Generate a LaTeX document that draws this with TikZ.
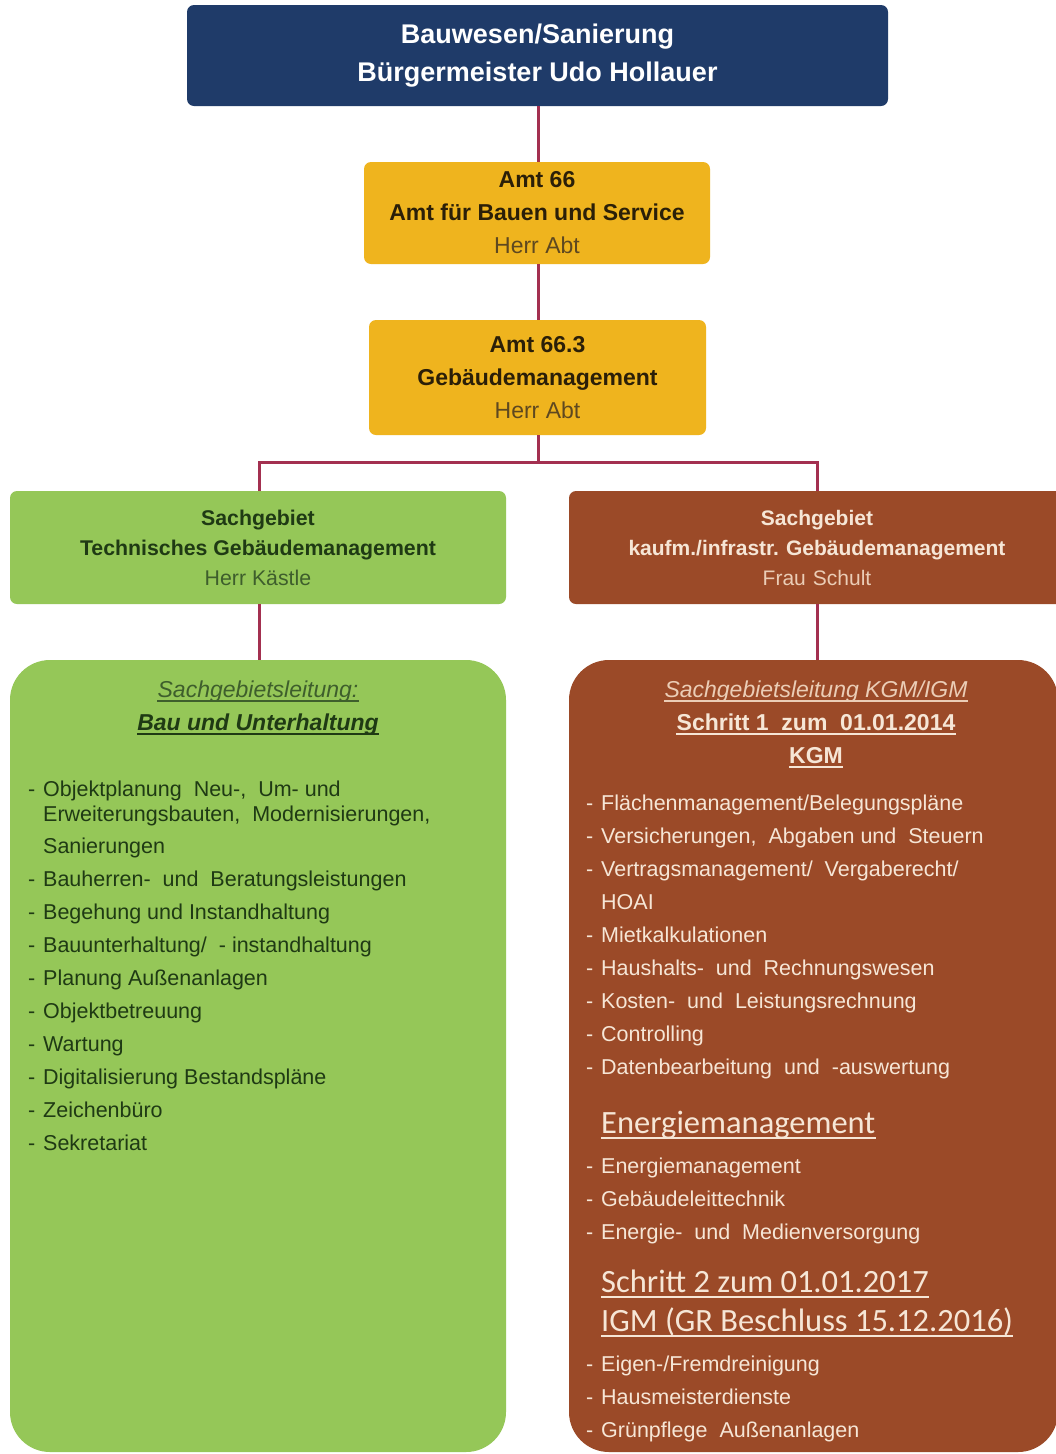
\documentclass[tikz,border=0pt]{standalone}
\usepackage{fontspec}
\setmainfont{Liberation Sans}
\newfontfamily\calfont{Carlito}
\frenchspacing
\definecolor{navy}{HTML}{1F3B69}
\definecolor{conn}{HTML}{A33050}
\definecolor{gold}{HTML}{EFB41E}
\definecolor{grn}{HTML}{95C758}
\definecolor{brn}{HTML}{9B4A28}
\definecolor{gtxt}{HTML}{1F3A14}
\definecolor{gtxtl}{HTML}{3E5E2C}
\definecolor{btxt}{HTML}{F6E6D6}
\definecolor{btxtl}{HTML}{EBCDB6}
\definecolor{otxt}{HTML}{2B1F08}
\definecolor{otxtl}{HTML}{5E4820}
\newcommand\Dh{\makebox[15pt][l]{-}}
\newcommand\Ih{\hspace*{15pt}}
\begin{document}
\begin{tikzpicture}[x=1pt,y=-1pt,
  cbox/.style={rectangle, rounded corners=7pt, inner sep=0pt, align=center},
  bigbox/.style={rectangle, rounded corners=40pt, inner sep=0pt},
  link/.style={draw=conn, line width=3pt},
  ln/.style={inner sep=0pt, anchor=base west, font=\fontsize{21.5}{25}\selectfont},
  hd/.style={inner sep=0pt, anchor=base, font=\fontsize{23}{27}\selectfont},
  cal/.style={inner sep=0pt, anchor=base west, font=\calfont\fontsize{32.5}{38}\selectfont},
  ulg/.style={draw=gtxt, line width=1.4pt},
  ulb/.style={draw=btxt, line width=1.4pt}]
\useasboundingbox (0,0) rectangle (1056,1454);
\fill[white] (0,0) rectangle (1056,1454);

% boxes
\node[cbox, fill=navy, minimum width=701pt, minimum height=101pt, text=white,
  font=\bfseries\fontsize{27}{38}\selectfont] (top) at (537.5,55.5)
  {Bauwesen/Sanierung\\Bürgermeister Udo Hollauer};
\node[cbox, fill=gold, minimum width=346pt, minimum height=102pt, text=otxt,
  font=\fontsize{23}{33}\selectfont] (a66) at (537,213)
  {\textbf{Amt 66}\\\textbf{Amt für Bauen und Service}\\\textcolor{otxtl}{Herr Abt}};
\node[cbox, fill=gold, minimum width=337pt, minimum height=115pt, text=otxt,
  font=\fontsize{23}{33}\selectfont] (a663) at (537.5,377.5)
  {\textbf{Amt 66.3}\\\textbf{Gebäudemanagement}\\\textcolor{otxtl}{Herr Abt}};
\node[cbox, fill=grn, minimum width=496pt, minimum height=113pt, text=gtxt,
  font=\fontsize{21.3}{30}\selectfont] (sgl) at (258,547.5)
  {\textbf{Sachgebiet}\\\textbf{Technisches Gebäudemanagement}\\\textcolor{gtxtl}{Herr Kästle}};
\node[cbox, fill=brn, minimum width=496pt, minimum height=113pt, text=btxt,
  font=\fontsize{21}{30}\selectfont, text width=487pt] (sgr) at (817,547.5)
  {\textbf{Sachgebiet}\\\textbf{kaufm./infrastr. Gebäudemanagement}\\\textcolor{btxtl}{Frau Schult}};
\node[bigbox, fill=grn, minimum width=496pt, minimum height=792pt] (bigl) at (258,1056) {};
\node[bigbox, fill=brn, minimum width=489pt, minimum height=792pt] (bigr) at (813.5,1056) {};

% connectors
\coordinate (jm) at (538,462);
\coordinate (jl) at (259,462);
\coordinate (jr) at (817,462);
\draw[link] (top.south -| jm) -- (a66.north -| jm);
\draw[link] (a66.south -| jm) -- (a663.north -| jm);
\draw[link] (a663.south -| jm) -- (jm);
\draw[link] (sgl.north -| jl) -- (jl) -- (jr) -- (sgr.north -| jr);
\draw[link] (sgl.south -| jl) -- (bigl.north -| jl);
\draw[link] (sgr.south -| jr) -- (bigr.north -| jr);

% green box content
\node[hd, text=gtxtl, font=\itshape\fontsize{23}{27}\selectfont] (gh1) at (258,697) {Sachgebietsleitung:};
\draw[draw=gtxtl, line width=1.2pt] ([yshift=-4pt]gh1.base west) -- ([yshift=-4pt]gh1.base east);
\node[hd, text=gtxt, font=\bfseries\itshape\fontsize{23}{27}\selectfont] (gh2) at (258,730) {Bau und Unterhaltung};
\draw[ulg] ([yshift=-4pt]gh2.base west) -- ([yshift=-4pt]gh2.base east);

\foreach \ty/\tx [count=\i] in {
  796/{\Dh Objektplanung\ \ Neu-,\ \ Um- und},
  821/{\Ih Erweiterungsbauten,\ \ Modernisierungen,},
  853/{\Ih Sanierungen},
  886/{\Dh Bauherren-\ \ und\ \ Beratungsleistungen},
  919/{\Dh Begehung und Instandhaltung},
  952/{\Dh Bauunterhaltung/\ \ - instandhaltung},
  985/{\Dh Planung Außenanlagen},
  1018/{\Dh Objektbetreuung},
  1051/{\Dh Wartung},
  1084/{\Dh Digitalisierung Bestandspläne},
  1117/{\Dh Zeichenbüro},
  1150/{\Dh Sekretariat}}
  \node[ln, text=gtxt] (gl\i) at (28,\ty) {\tx};

% brown box content
\node[hd, text=btxtl, font=\itshape\fontsize{23}{27}\selectfont] (bh1) at (816,697) {Sachgebietsleitung KGM/IGM};
\draw[draw=btxtl, line width=1.2pt] ([yshift=-4pt]bh1.base west) -- ([yshift=-4pt]bh1.base east);
\node[hd, text=btxt, font=\bfseries\fontsize{23}{27}\selectfont] (bh2) at (816,730) {Schritt 1\ \ zum\ \ 01.01.2014};
\draw[ulb] ([yshift=-4pt]bh2.base west) -- ([yshift=-4pt]bh2.base east);
\node[hd, text=btxt, font=\bfseries\fontsize{23}{27}\selectfont] (bh3) at (816,763) {KGM};
\draw[ulb] ([yshift=-4pt]bh3.base west) -- ([yshift=-4pt]bh3.base east);

\foreach \ty/\tx [count=\i] in {
  810/{\Dh Flächenmanagement/Belegungspläne},
  843/{\Dh Versicherungen,\ \ Abgaben und\ \ Steuern},
  876/{\Dh Vertragsmanagement/\ \ Vergaberecht/},
  909/{\Ih HOAI},
  942/{\Dh Mietkalkulationen},
  975/{\Dh Haushalts-\ \ und\ \ Rechnungswesen},
  1008/{\Dh Kosten-\ \ und\ \ Leistungsrechnung},
  1041/{\Dh Controlling},
  1074/{\Dh Datenbearbeitung\ \ und\ \ -auswertung},
  1173/{\Dh Energiemanagement},
  1206/{\Dh Gebäudeleittechnik},
  1239/{\Dh Energie-\ \ und\ \ Medienversorgung},
  1371/{\Dh Eigen-/Fremdreinigung},
  1404/{\Dh Hausmeisterdienste},
  1437/{\Dh Grünpflege\ \ Außenanlagen}}
  \node[ln, text=btxt] (bl\i) at (586,\ty) {\tx};

\node[cal, text=btxt] (bc1) at (601,1133) {Energiemanagement};
\draw[ulb] ([yshift=-5pt]bc1.base west) -- ([yshift=-5pt]bc1.base east);
\node[cal, text=btxt] (bc2) at (601,1292) {Schritt 2 zum 01.01.2017};
\draw[ulb] ([yshift=-5pt]bc2.base west) -- ([yshift=-5pt]bc2.base east);
\node[cal, text=btxt] (bc3) at (601,1331) {IGM (GR Beschluss 15.12.2016)};
\draw[ulb] ([yshift=-5pt]bc3.base west) -- ([yshift=-5pt]bc3.base east);
\end{tikzpicture}
\end{document}
